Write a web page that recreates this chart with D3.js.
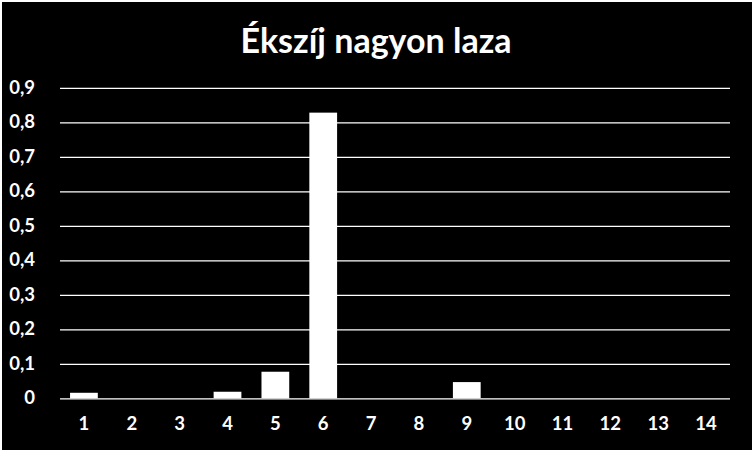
<!DOCTYPE html>
<html lang="hu">
<head>
    <meta charset="UTF-8">
    <title>Ékszíj nagyon laza</title>
    <script src="https://d3js.org/d3.v7.min.js"></script>
    <style>
        body, html {
            margin: 0;
            background-color: white;
        }
        svg {
            display: block;
        }
        text {
            font-family: Lato, "Open Sans", sans-serif;
            font-weight: bold;
            fill: white;
        }
    </style>
</head>
<body>
    <svg id="chart"></svg>
    <script>
        const categories = ["1", "2", "3", "4", "5", "6", "7", "8", "9", "10", "11", "12", "13", "14"];
        const values = [0.016, 0, 0, 0.019, 0.077, 0.828, 0, 0, 0.047, 0, 0, 0, 0, 0];
        const yTicks = [0, 0.1, 0.2, 0.3, 0.4, 0.5, 0.6, 0.7, 0.8, 0.9];
        const title = "Ékszíj nagyon laza";

        const svgWidth = 752, svgHeight = 452;
        const margin = { top: 88, right: 22, bottom: 54, left: 60 };

        const svg = d3.select("#chart")
            .attr("width", svgWidth)
            .attr("height", svgHeight);

        // black chart area
        svg.append("rect")
            .attr("x", 2).attr("y", 2)
            .attr("width", 750).attr("height", 448)
            .attr("fill", "#000");

        const x = d3.scaleBand()
            .domain(categories)
            .range([margin.left, svgWidth - margin.right])
            .paddingInner(0.42)
            .paddingOuter(0.21);

        const y = d3.scaleLinear()
            .domain([0, 0.9])
            .range([svgHeight - margin.bottom + 0.3, margin.top - 0.2]);

        const fmt = d => d === 0 ? "0" : d3.format(".1f")(d).replace(".", ",");

        // gridlines + y labels
        const yAxis = svg.append("g")
            .attr("transform", `translate(${margin.left}, 0)`)
            .call(d3.axisLeft(y)
                .tickValues(yTicks)
                .tickSize(-(svgWidth - margin.left - margin.right))
                .tickPadding(25)
                .tickFormat(fmt));
        yAxis.select(".domain").remove();
        yAxis.selectAll(".tick line")
            .attr("stroke", "white")
            .attr("stroke-width", 1.2);
        yAxis.selectAll(".tick text")
            .attr("font-size", 18.5)
            .attr("dy", "0.3em")
            .attr("fill", "white");

        // bars
        svg.selectAll(".bar")
            .data(values)
            .enter().append("rect")
            .attr("class", "bar")
            .attr("x", (d, i) => x(categories[i]))
            .attr("width", x.bandwidth())
            .attr("y", d => y(d))
            .attr("height", d => y(0) - y(d))
            .attr("fill", "white");

        // x labels
        const xAxis = svg.append("g")
            .attr("transform", `translate(0, ${y(0)})`)
            .call(d3.axisBottom(x).tickSize(0).tickPadding(19));
        xAxis.select(".domain").remove();
        xAxis.selectAll(".tick text")
            .attr("font-size", 18.5)
            .attr("fill", "white");

        // title
        svg.append("text")
            .attr("x", 376)
            .attr("y", 53)
            .attr("text-anchor", "middle")
            .attr("font-size", 34)
            .text(title);
    </script>
</body>
</html>
